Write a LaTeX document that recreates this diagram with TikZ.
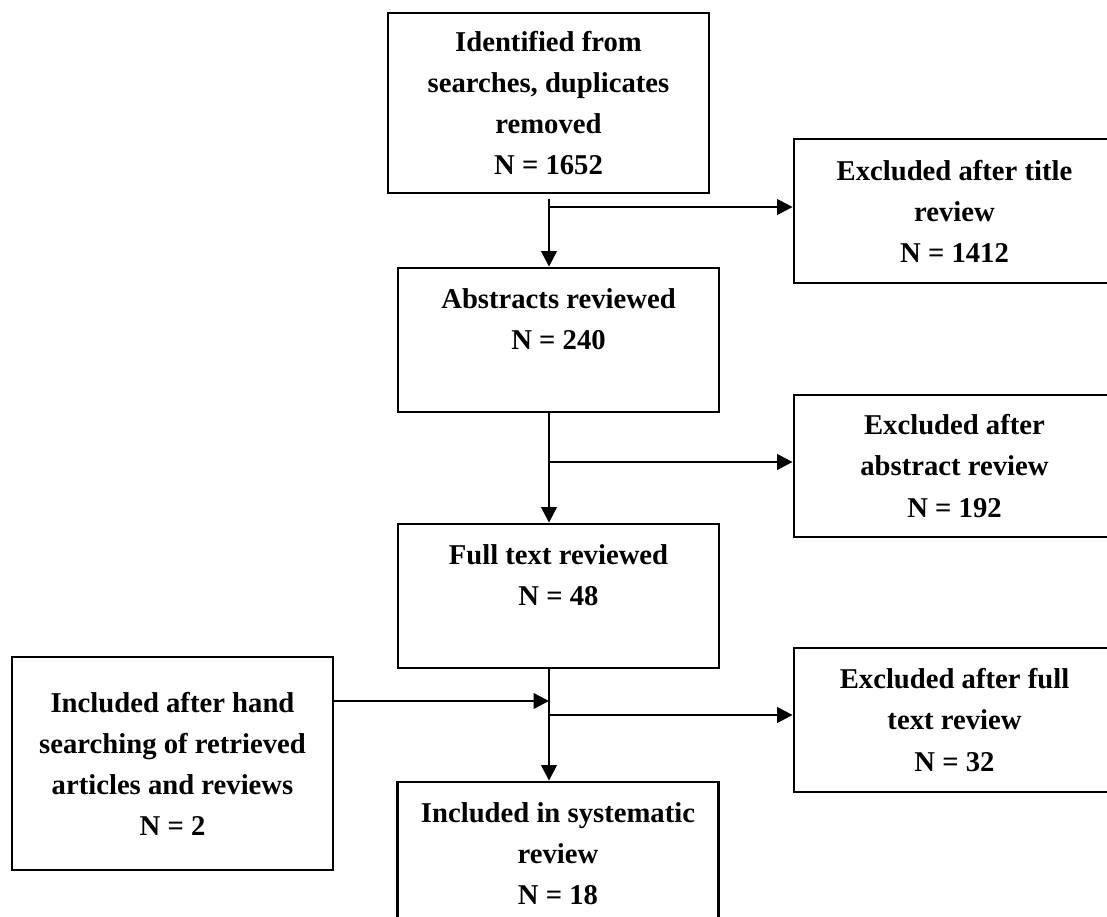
\documentclass[tikz,border=0pt]{standalone}
\usepackage{fontspec}
\setmainfont{Liberation Serif}
\usetikzlibrary{arrows.meta}
\begin{document}
\begin{tikzpicture}[font=\fontsize{20.4}{29.2}\selectfont\bfseries,
  stage/.style={draw, line width=2pt, minimum width=8.025cm, minimum height=3.6cm, align=center, inner sep=0pt},
  arr/.style={-{Triangle[length=11pt,width=11pt]}, line width=1.7pt}]
  \clip (0,0) rectangle (27.675,-22.925);
  \node[stage, minimum height=4.5cm] (ident) at (13.7125,-2.575) {Identified from\\searches, duplicates\\removed\\N = 1652};
  \node[stage] (abstr) at (13.9625,-8.5)   {Abstracts reviewed\\N = 240\\ \mbox{}};
  \node[stage] (full)  at (13.9625,-14.9)  {Full text reviewed\\N = 48\\ \mbox{}};
  \node[stage] (incl)  at (13.95,-21.35)   {Included in systematic\\review\\N = 18};
  \node[stage] (extitle) at (23.8625,-5.275) {Excluded after title\\review\\N = 1412};
  \node[stage, minimum height=3.55cm] (exabstr) at (23.8625,-11.65) {Excluded after\\abstract review\\N = 192};
  \node[stage] (exfull) at (23.8625,-18.0) {Excluded after full\\text review\\N = 32};
  \node[stage, minimum height=5.325cm] (hand) at (4.3125,-19.0875) {Included after hand\\searching of retrieved\\articles and reviews\\N = 2};
  \coordinate (j1) at (13.725,-5.175);
  \coordinate (j2) at (13.725,-11.55);
  \coordinate (j3) at (13.725,-17.875);
  \coordinate (j4) at (13.725,-17.525);
  \draw[arr, shorten <=3.5pt] (j1 |- ident.south) -- (j1 |- abstr.north);
  \draw[arr] (j1) -- (j1 -| extitle.west);
  \draw[arr] (j2 |- abstr.south) -- (j2 |- full.north);
  \draw[arr] (j2) -- (j2 -| exabstr.west);
  \draw[arr] (j3 |- full.south) -- (j3 |- incl.north);
  \draw[arr] (j3) -- (j3 -| exfull.west);
  \draw[arr] (j4 -| hand.east) -- (j4);
\end{tikzpicture}
\end{document}
